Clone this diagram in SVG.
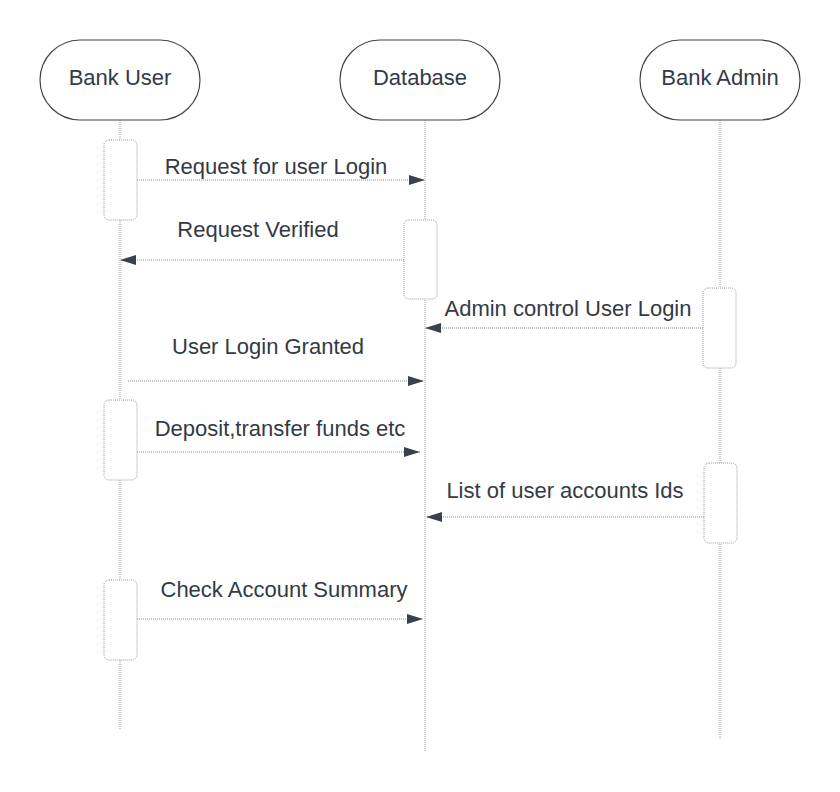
<svg xmlns="http://www.w3.org/2000/svg" width="840" height="792" viewBox="0 0 840 792">
<defs>
<style>
.hdr{fill:#ffffff;stroke:#3f444c;stroke-width:1.2}
.life{stroke:#9a9a9a;stroke-width:1;stroke-dasharray:1,1;fill:none}
.act{fill:#ffffff;stroke:#9a9a9a;stroke-width:1;stroke-dasharray:1,1}
.msg{stroke:#8a8a8a;stroke-width:1;stroke-dasharray:1,1;fill:none}
.t{font-family:"Liberation Sans",Arial,sans-serif;font-size:20px;fill:#333a45;text-anchor:middle}
.th{font-family:"Liberation Sans",Arial,sans-serif;font-size:22px;fill:#333a45;text-anchor:middle}
</style>
<marker id="ah" viewBox="0 0 16 10" refX="16" refY="5" markerWidth="16" markerHeight="10" markerUnits="userSpaceOnUse" orient="auto">
<path d="M0,0 L16,5 L0,10 Z" fill="#3a414a"/>
</marker>
</defs>

<g id="lifelines">
<line class="life" x1="120" y1="120" x2="120" y2="730"/>
<line class="life" x1="425" y1="102" x2="425" y2="752"/>
<line class="life" x1="720" y1="120" x2="720" y2="740"/>
</g>

<g id="bank-user">
<rect class="hdr" x="40" y="40" width="160" height="80" rx="40" ry="40"/>
<text class="th" x="120" y="85">Bank User</text>
</g>
<g id="database">
<rect class="hdr" x="340" y="40" width="160" height="80" rx="40" ry="40"/>
<text class="th" x="420" y="85">Database</text>
</g>
<g id="bank-admin">
<rect class="hdr" x="640" y="40" width="160" height="80" rx="40" ry="40"/>
<text class="th" x="720" y="85">Bank Admin</text>
</g>

<g id="activations">
<rect id="act-user-1" class="act" x="104" y="140" width="33" height="80" rx="5"/>
<rect id="act-db-1" class="act" x="404" y="220" width="33" height="79" rx="5"/>
<rect id="act-admin-1" class="act" x="703" y="288" width="33" height="80" rx="5"/>
<rect id="act-user-2" class="act" x="104" y="400" width="33" height="80" rx="5"/>
<rect id="act-admin-2" class="act" x="704" y="463" width="33" height="80" rx="5"/>
<rect id="act-user-3" class="act" x="104" y="580" width="33" height="80" rx="5"/>
</g>

<g id="connectors">
<line class="msg" x1="137" y1="180" x2="425" y2="180" marker-end="url(#ah)"/>
<line class="msg" x1="404" y1="260" x2="120" y2="260" marker-end="url(#ah)"/>
<line class="msg" x1="703" y1="328" x2="425" y2="328" marker-end="url(#ah)"/>
<line class="msg" x1="128" y1="381" x2="424" y2="381" marker-end="url(#ah)"/>
<line class="msg" x1="137" y1="452" x2="420" y2="452" marker-end="url(#ah)"/>
<line class="msg" x1="704" y1="517" x2="426" y2="517" marker-end="url(#ah)"/>
<line class="msg" x1="137" y1="619" x2="423" y2="619" marker-end="url(#ah)"/>
</g>

<g id="labels">
<text class="th" x="276" y="174">Request for user Login</text>
<text class="th" x="258" y="237">Request Verified</text>
<text class="th" x="568" y="316">Admin control User Login</text>
<text class="th" x="268" y="354">User Login Granted</text>
<text class="th" x="280" y="436">Deposit,transfer funds etc</text>
<text class="th" x="565" y="498">List of user accounts Ids</text>
<text class="th" x="284" y="597">Check Account Summary</text>
</g>
</svg>
